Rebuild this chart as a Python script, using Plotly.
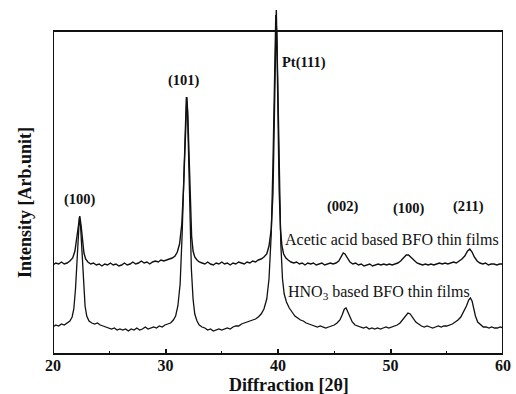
import plotly.graph_objects as go

# ---- data (intensity in arbitrary units) ----
acetic_2theta = [20.0, 20.25, 20.5, 20.75, 21.0, 21.25, 21.5, 21.75, 21.95, 22.1, 22.25, 22.38, 22.5, 22.62, 22.75, 22.9,
                 23.1, 23.35, 23.6, 23.85, 24.1, 24.35, 24.6, 24.85, 25.1, 25.35, 25.6, 25.85, 26.1, 26.35, 26.6, 26.85,
                 27.1, 27.35, 27.6, 27.85, 28.1, 28.35, 28.6, 28.85, 29.1, 29.35, 29.6, 29.85, 30.1, 30.35, 30.6, 30.85,
                 31.05, 31.25, 31.45, 31.6, 31.72, 31.82, 31.9, 31.98, 32.08, 32.2, 32.32, 32.45, 32.6, 32.8, 33.0, 33.25,
                 33.5, 33.75, 34.0, 34.25, 34.5, 34.75, 35.0, 35.25, 35.5, 35.75, 36.0, 36.25, 36.5, 36.75, 37.0, 37.25,
                 37.5, 37.75, 38.0, 38.25, 38.5, 38.75, 39.0, 39.2, 39.4, 39.55, 39.68, 39.78, 39.85, 39.92, 40.0, 40.1,
                 40.22, 40.35, 40.5, 40.7, 40.9, 41.15, 41.4, 41.65, 41.9, 42.15, 42.4, 42.65, 42.9, 43.15, 43.4, 43.65,
                 43.9, 44.15, 44.4, 44.65, 44.9, 45.15, 45.4, 45.6, 45.8, 45.95, 46.15, 46.4, 46.65, 46.9, 47.15, 47.4,
                 47.65, 47.9, 48.15, 48.4, 48.65, 48.9, 49.15, 49.4, 49.65, 49.9, 50.15, 50.4, 50.65, 50.9, 51.15, 51.4,
                 51.6, 51.85, 52.1, 52.35, 52.6, 52.85, 53.1, 53.35, 53.6, 53.85, 54.1, 54.35, 54.6, 54.85, 55.1, 55.35,
                 55.6, 55.85, 56.1, 56.35, 56.6, 56.85, 57.05, 57.25, 57.45, 57.7, 57.95, 58.2, 58.45, 58.7, 58.95, 59.2,
                 59.45, 59.7, 60.0]
acetic_intensity = [89, 91, 90, 92, 90, 91, 93, 96, 103, 115, 130, 138, 128, 112, 101, 95,
                    92, 90, 91, 89, 90, 88, 90, 89, 91, 89, 90, 88, 89, 91, 89, 90,
                    92, 90, 91, 93, 91, 92, 90, 92, 93, 92, 94, 93, 94, 95, 96, 98,
                    102, 110, 130, 165, 210, 245, 257, 240, 200, 150, 118, 103, 97, 94, 92, 91,
                    90, 92, 90, 89, 91, 90, 92, 90, 91, 89, 91, 90, 92, 91, 90, 92,
                    91, 93, 92, 94, 95, 97, 100, 108, 125, 160, 230, 320, 344, 300, 230, 165,
                    125, 108, 100, 96, 94, 92, 91, 92, 90, 91, 89, 91, 90, 91, 89, 90,
                    91, 89, 90, 91, 90, 91, 93, 97, 101, 100, 96, 92, 90, 91, 89, 90,
                    88, 89, 90, 88, 89, 90, 89, 90, 89, 90, 89, 90, 91, 93, 96, 99,
                    99, 96, 93, 91, 90, 89, 90, 89, 90, 89, 90, 91, 90, 91, 90, 91,
                    92, 91, 93, 95, 98, 103, 105, 102, 97, 93, 91, 90, 91, 89, 90, 90,
                    89, 90, 90]

hno3_2theta = [20.0, 20.25, 20.5, 20.75, 21.0, 21.25, 21.5, 21.7, 21.85, 22.0, 22.12, 22.25, 22.35, 22.45, 22.57, 22.7,
               22.85, 23.0, 23.2, 23.45, 23.7, 23.95, 24.2, 24.45, 24.7, 24.95, 25.2, 25.45, 25.7, 25.95, 26.2, 26.45,
               26.7, 26.95, 27.2, 27.45, 27.7, 27.95, 28.2, 28.45, 28.7, 28.95, 29.2, 29.45, 29.7, 29.95, 30.2, 30.45,
               30.7, 30.9, 31.1, 31.3, 31.48, 31.62, 31.75, 31.85, 31.95, 32.05, 32.17, 32.3, 32.45, 32.6, 32.8, 33.0,
               33.25, 33.5, 33.75, 34.0, 34.25, 34.5, 34.75, 35.0, 35.25, 35.5, 35.75, 36.0, 36.25, 36.5, 36.75, 37.0,
               37.25, 37.5, 37.75, 38.0, 38.25, 38.5, 38.75, 39.0, 39.2, 39.4, 39.55, 39.7, 39.8, 39.9, 40.0, 40.12,
               40.25, 40.4, 40.55, 40.75, 41.0, 41.25, 41.5, 41.75, 42.0, 42.25, 42.5, 42.75, 43.0, 43.25, 43.5, 43.75,
               44.0, 44.25, 44.5, 44.75, 45.0, 45.25, 45.5, 45.7, 45.9, 46.05, 46.2, 46.4, 46.6, 46.85, 47.1, 47.35,
               47.6, 47.85, 48.1, 48.35, 48.6, 48.85, 49.1, 49.35, 49.6, 49.85, 50.1, 50.35, 50.6, 50.85, 51.1, 51.35,
               51.55, 51.75, 52.0, 52.25, 52.5, 52.75, 53.0, 53.25, 53.5, 53.75, 54.0, 54.25, 54.5, 54.75, 55.0, 55.25,
               55.5, 55.75, 56.0, 56.25, 56.5, 56.75, 56.95, 57.1, 57.25, 57.4, 57.55, 57.75, 58.0, 58.25, 58.5, 58.75,
               59.0, 59.25, 59.5, 59.75, 60.0]
hno3_intensity = [27, 29, 28, 30, 29, 31, 33, 37, 45, 65, 95, 125, 137, 128, 100, 70,
                  48, 38, 33, 31, 30, 31, 29, 28, 27, 26, 25, 26, 24, 25, 24, 25,
                  23, 25, 24, 26, 24, 25, 27, 25, 26, 27, 26, 28, 27, 29, 30, 31,
                  34, 38, 48, 70, 120, 180, 235, 257, 245, 200, 140, 85, 55, 40, 33, 29,
                  27, 26, 24, 25, 23, 24, 25, 24, 25, 26, 25, 27, 28, 28, 30, 31,
                  32, 33, 34, 35, 37, 40, 45, 55, 75, 120, 190, 290, 339, 320, 250, 170,
                  110, 75, 60, 52, 46, 42, 38, 36, 34, 33, 31, 30, 29, 28, 27, 28,
                  27, 26, 27, 28, 29, 31, 34, 39, 45, 46, 42, 36, 32, 29, 28, 27,
                  26, 27, 25, 26, 25, 26, 25, 26, 27, 26, 27, 28, 29, 31, 35, 39,
                  41, 40, 36, 32, 30, 28, 27, 28, 27, 26, 27, 28, 27, 28, 28, 29,
                  30, 32, 34, 37, 42, 48, 54, 56, 53, 46, 38, 32, 29, 27, 27, 26,
                  27, 26, 26, 27, 26]

peak_labels = ["(100)", "(101)", "(002)", "(100)", "(211)"]
peak_label_x = [22.4, 31.6, 45.8, 51.6, 56.9]
peak_label_y = [155, 274, 148, 146, 148]

x_ticks = [20, 30, 40, 50, 60]

SERIF = "Liberation Serif"
INK = "#111111"

fig = go.Figure()
fig.add_trace(go.Scatter(x=acetic_2theta, y=acetic_intensity, mode="lines",
                         line=dict(color=INK, width=1.4), name="Acetic acid based BFO thin films",
                         showlegend=False))
fig.add_trace(go.Scatter(x=hno3_2theta, y=hno3_intensity, mode="lines",
                         line=dict(color=INK, width=1.3), name="HNO3 based BFO thin films",
                         showlegend=False))

annotations = []
for t, xx, yy in zip(peak_labels, peak_label_x, peak_label_y):
    annotations.append(dict(x=xx, y=yy, xref="x", yref="y", text=t, showarrow=False,
                            font=dict(family=SERIF, size=14.5, color=INK, weight="bold"),
                            xanchor="center", yanchor="middle"))
annotations.append(dict(x=40.2, y=292, xref="x", yref="y", text="Pt(111)", showarrow=False,
                        font=dict(family=SERIF, size=14.5, color=INK, weight="bold"),
                        xanchor="left", yanchor="middle"))
annotations.append(dict(x=40.45, y=115, xref="x", yref="y", text="Acetic acid based BFO thin films",
                        showarrow=False, font=dict(family=SERIF, size=16, color=INK),
                        xanchor="left", yanchor="middle"))
annotations.append(dict(x=40.75, y=62, xref="x", yref="y", text="HNO<sub>3</sub> based BFO thin films",
                        showarrow=False, font=dict(family=SERIF, size=16, color=INK),
                        xanchor="left", yanchor="middle"))
# axis titles
annotations.append(dict(x=(289 - 53) / 450, y=-0.088, xref="paper", yref="paper",
                        text="Diffraction [2θ]", showarrow=False,
                        font=dict(family=SERIF, size=18, color=INK, weight="bold"),
                        xanchor="center", yanchor="middle"))
annotations.append(dict(x=(25 - 53) / 450, y=(354 - 203) / 350, xref="paper", yref="paper",
                        text="Intensity [Arb.unit]", showarrow=False, textangle=-90,
                        font=dict(family=SERIF, size=18, color=INK, weight="bold"),
                        xanchor="center", yanchor="middle"))

fig.update_layout(
    width=516, height=394,
    margin=dict(l=53, r=13, t=4, b=40),
    paper_bgcolor="white", plot_bgcolor="white",
    annotations=annotations,
    shapes=[dict(type="rect", xref="x", yref="paper", x0=20, x1=60, y0=0, y1=(354 - 31) / 350,
                 line=dict(color=INK, width=2), fillcolor="rgba(0,0,0,0)", layer="above")],
    xaxis=dict(range=[20, 60], tickvals=x_ticks, ticktext=[str(v) for v in x_ticks],
               ticks="inside", ticklen=5, tickwidth=1.5, tickcolor=INK,
               minor=dict(tickvals=[25, 35, 45, 55], ticks="inside", ticklen=3, tickwidth=1.2, tickcolor=INK),
               showgrid=False, zeroline=False, showline=False,
               tickfont=dict(family=SERIF, size=16, color=INK, weight="bold")),
    yaxis=dict(range=[0, 350], showticklabels=False, ticks="", showgrid=False, zeroline=False, showline=False),
)

fig.write_html("out.html")
